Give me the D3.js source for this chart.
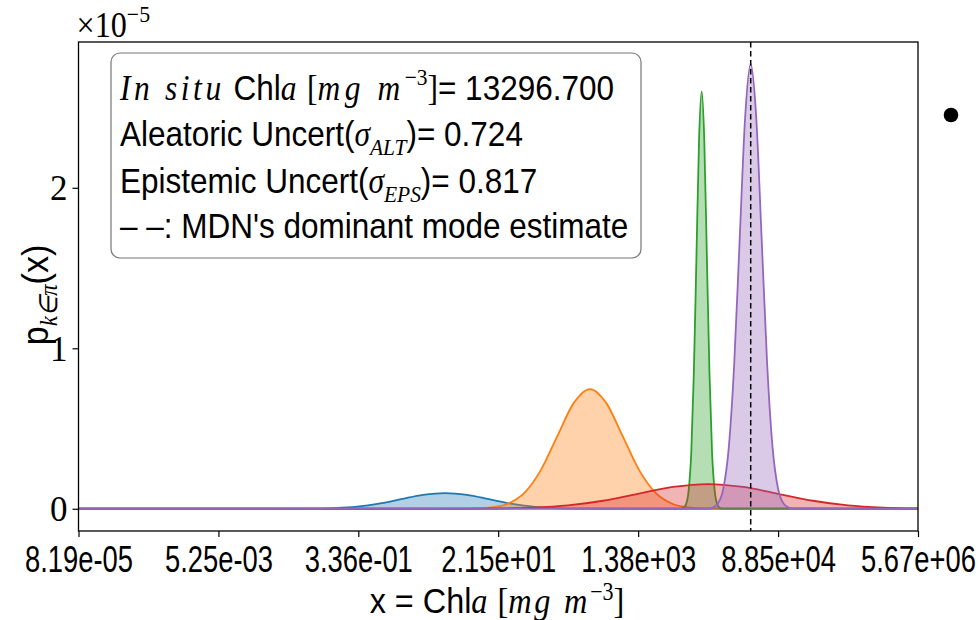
<!DOCTYPE html>
<html>
<head>
<meta charset="utf-8">
<script src="https://cdn.jsdelivr.net/npm/d3@7"></script>
<style>
  body { margin: 0; background: #fff; }
  svg { display: block; }
</style>
</head>
<body>
<svg id="chart" width="980" height="620"></svg>
<script>
// ---- data ---------------------------------------------------------------
// x axis ticks (Chla, mg m^-3) and their printed labels
const xTickValues = [8.19e-5, 5.25e-3, 3.36e-1, 2.15e1, 1.38e3, 8.85e4, 5.67e6];
const xTickLabels = ["8.19e-05", "5.25e-03", "3.36e-01", "2.15e+01", "1.38e+03", "8.85e+04", "5.67e+06"];
// y ticks, density in units of 1e-5
const yTickValues = [0, 1, 2];

// Mixture components: sample positions as log10(Chla) and density (x 1e-5)
const comp1LogX = [-4.0867, -1.626, -1.342, -1.058, -0.774, -0.490, -0.206, 0.078, 0.362, 0.646, 0.930, 1.214, 1.498, 1.782, 2.066, 2.350, 2.634, 2.918, 6.7536];
const comp1P    = [0, 0, 0.0002, 0.0011, 0.0043, 0.0133, 0.0318, 0.0594, 0.0865, 0.098, 0.0865, 0.0594, 0.0318, 0.0133, 0.0043, 0.0011, 0.0002, 0, 0];

const comp2LogX = [-4.0867, 0.830, 1.041, 1.252, 1.463, 1.674, 1.885, 2.096, 2.307, 2.518, 2.729, 2.940, 3.151, 3.362, 3.573, 3.784, 3.995, 4.206, 6.7536];
const comp2P    = [0, 0.0002, 0.0016, 0.0083, 0.0327, 0.1009, 0.2422, 0.4525, 0.6583, 0.746, 0.6583, 0.4525, 0.2422, 0.1009, 0.0327, 0.0083, 0.0016, 0.0002, 0];

const comp3LogX = [-4.0867, 3.692, 3.725, 3.759, 3.792, 3.826, 3.859, 3.893, 3.926, 3.960, 3.994, 4.027, 4.061, 4.094, 4.128, 4.161, 4.195, 4.228, 6.7536];
const comp3P    = [0, 0.0009, 0.0057, 0.0288, 0.114, 0.352, 0.844, 1.577, 2.295, 2.60, 2.295, 1.577, 0.844, 0.352, 0.114, 0.0288, 0.0057, 0.0009, 0];

const comp4LogX = [-4.0867, 0.425, 0.877, 1.329, 1.781, 2.233, 2.685, 3.137, 3.589, 4.041, 4.493, 4.945, 5.397, 5.849, 6.301, 6.7536];
const comp4P    = [0, 0.0001, 0.0003, 0.0017, 0.0068, 0.0208, 0.0500, 0.0934, 0.1359, 0.154, 0.1359, 0.0934, 0.0500, 0.0208, 0.0068, 0.0017];

const comp5LogX = [-4.0867, 4.025, 4.096, 4.167, 4.238, 4.309, 4.380, 4.451, 4.522, 4.593, 4.664, 4.735, 4.806, 4.877, 4.948, 5.019, 5.090, 5.161, 6.7536];
const comp5P    = [0, 0.0009, 0.0061, 0.0308, 0.1216, 0.3748, 0.8994, 1.680, 2.4445, 2.77, 2.4445, 1.680, 0.8994, 0.3748, 0.1216, 0.0308, 0.0061, 0.0009, 0];

const componentColors = ["#1f77b4", "#ff7f0e", "#2ca02c", "#d62728", "#9467bd"];

// summary statistics shown in the annotation box
const inSituChla = 13296.7;
const sigmaALT = 0.724;
const sigmaEPS = 0.817;
const dominantMode = 3.92e4;   // MDN's dominant mode estimate (mg m^-3)

// ---- layout -------------------------------------------------------------
const plot = { left: 78.5, right: 918, top: 42, bottom: 531 };
const SANS = "'Liberation Sans', Arial, sans-serif";
const SERIF = "'Liberation Serif', 'Times New Roman', serif";

const svg = d3.select("#chart");

const components = [
  [comp1LogX, comp1P], [comp2LogX, comp2P], [comp3LogX, comp3P],
  [comp4LogX, comp4P], [comp5LogX, comp5P]
].map(([lx, p], i) => ({
  color: componentColors[i],
  points: lx.map((v, j) => ({ x: Math.pow(10, v), p: p[j] }))
}));

const x = d3.scaleLog()
  .domain([xTickValues[0], xTickValues[xTickValues.length - 1]])
  .range([plot.left, plot.right]);

const yMax = d3.max(components, c => d3.max(c.points, d => d.p));
const pad = 0.05 * yMax;
const y = d3.scaleLinear()
  .domain([-pad, yMax + pad])
  .range([plot.bottom, plot.top]);

svg.append("defs").append("clipPath").attr("id", "plotClip")
  .append("rect")
  .attr("x", plot.left).attr("y", plot.top)
  .attr("width", plot.right - plot.left).attr("height", plot.bottom - plot.top);

const area = d3.area()
  .x(d => x(d.x)).y0(y(0)).y1(d => y(d.p))
  .curve(d3.curveMonotoneX);
const line = d3.line()
  .x(d => x(d.x)).y(d => y(d.p))
  .curve(d3.curveMonotoneX);

const gPlot = svg.append("g").attr("clip-path", "url(#plotClip)");
components.forEach(c => {
  gPlot.append("path").datum(c.points)
    .attr("d", area).attr("fill", c.color).attr("fill-opacity", 0.35);
  gPlot.append("path").datum(c.points)
    .attr("d", line).attr("fill", "none")
    .attr("stroke", c.color).attr("stroke-width", 1.8);
});

// dominant mode marker
gPlot.append("line")
  .attr("x1", x(dominantMode)).attr("x2", x(dominantMode))
  .attr("y1", plot.top).attr("y2", plot.bottom)
  .attr("stroke", "#000").attr("stroke-width", 1.5)
  .attr("stroke-dasharray", "5.5,3.5");

// ---- axes ---------------------------------------------------------------
const xAxis = d3.axisBottom(x)
  .tickValues(xTickValues)
  .tickFormat((d, i) => xTickLabels[i])
  .tickSize(6);
const gx = svg.append("g").attr("transform", `translate(0,${plot.bottom})`).call(xAxis);
gx.select(".domain").remove();
gx.selectAll(".tick line").attr("stroke", "#000").attr("stroke-width", 1.2);
gx.selectAll(".tick text")
  .attr("y", 15).attr("dy", "0.71em")
  .attr("transform", "scale(0.74,1)")
  .style("font-family", SANS).style("font-size", "37px").attr("fill", "#000");

const yAxis = d3.axisLeft(y).tickValues(yTickValues).tickFormat(d3.format("d")).tickSize(6);
const gy = svg.append("g").attr("transform", `translate(${plot.left},0)`).call(yAxis);
gy.select(".domain").remove();
gy.selectAll(".tick line").attr("stroke", "#000").attr("stroke-width", 1.2);
gy.selectAll(".tick text")
  .attr("x", -11).attr("dy", "0.34em")
  .style("font-family", SERIF).style("font-size", "35px").attr("fill", "#000");

// frame
svg.append("rect")
  .attr("x", plot.left).attr("y", plot.top)
  .attr("width", plot.right - plot.left).attr("height", plot.bottom - plot.top)
  .attr("fill", "none").attr("stroke", "#000").attr("stroke-width", 1.3);

// ---- rich text helper ---------------------------------------------------
function richText(parent, px, py, parts, opts) {
  const t = parent.append("text")
    .attr("transform", `translate(${px},${py})${opts.rotate ? ` rotate(${opts.rotate})` : ""} scale(${opts.sx || 1},1)`)
    .attr("text-anchor", opts.anchor || "start")
    .attr("fill", "#000")
    .style("font-size", opts.size + "px");
  let shift = 0;
  const supRaise = opts.supRaise || 0.42;
  parts.forEach(p => {
    const target = p.sup ? -opts.size * supRaise : p.sub ? opts.size * 0.25 : 0;
    const ts = t.append("tspan")
      .style("font-family", p.f || SANS)
      .style("font-style", p.i ? "italic" : "normal")
      .style("font-size", (p.sup || p.sub ? opts.size * 0.68 : opts.size) + "px")
      .style("letter-spacing", (p.ls || 0) + "px")
      .text(p.t);
    if (target !== shift) { ts.attr("dy", target - shift); shift = target; }
  });
  return t;
}

// offset text for the y axis
richText(svg, plot.left - 2, 37, [
  { t: "×10", f: SERIF }, { t: "−5", f: SERIF, sup: true }
], { size: 35, sx: 0.92 });

// axis titles
richText(svg, 497, 613, [
  { t: "x = Chl", f: SANS }, { t: "a", f: SERIF, i: true, ls: 2 }, { t: " [", f: SERIF },
  { t: "mg m", f: SERIF, i: true, ls: 3 }, { t: "−3", f: SERIF, sup: true }, { t: "]", f: SERIF }
], { size: 36, anchor: "middle", sx: 0.9, supRaise: 0.36 });

richText(svg, 48, 295, [
  { t: "p", f: SANS }, { t: "k∈π", f: SERIF, i: true, sub: true }, { t: "(x)", f: SANS }
], { size: 37, anchor: "middle", rotate: -90, sx: 0.92 });

// ---- annotation box -----------------------------------------------------
svg.append("rect")
  .attr("x", 111).attr("y", 53).attr("width", 530).attr("height", 205)
  .attr("rx", 9).attr("ry", 9)
  .attr("fill", "#fff").attr("fill-opacity", 0.8)
  .attr("stroke", "#777").attr("stroke-width", 1.2);

const boxSize = 35, boxSx = 0.9, boxX = 120;
richText(svg, boxX, 100, [
  { t: "In situ", f: SERIF, i: true, ls: 4 }, { t: " Chl", f: SANS }, { t: "a", f: SERIF, i: true, ls: 3 },
  { t: " [", f: SERIF }, { t: "mg m", f: SERIF, i: true, ls: 5 }, { t: "−3", f: SERIF, sup: true },
  { t: "]", f: SERIF }, { t: "= " + inSituChla.toFixed(3), f: SANS }
], { size: boxSize, sx: boxSx });
richText(svg, boxX, 146, [
  { t: "Aleatoric Uncert(", f: SANS }, { t: "σ", f: SERIF, i: true },
  { t: "ALT", f: SERIF, i: true, sub: true }, { t: ")= " + sigmaALT.toFixed(3), f: SANS }
], { size: boxSize, sx: boxSx });
richText(svg, boxX, 193, [
  { t: "Epistemic Uncert(", f: SANS }, { t: "σ", f: SERIF, i: true },
  { t: "EPS", f: SERIF, i: true, sub: true }, { t: ")= " + sigmaEPS.toFixed(3), f: SANS }
], { size: boxSize, sx: boxSx });
richText(svg, boxX, 238, [
  { t: "– –:  MDN's dominant mode estimate", f: SANS }
], { size: boxSize, sx: boxSx });

// bullet to the right of the chart
svg.append("circle").attr("cx", 951).attr("cy", 115).attr("r", 7.3).attr("fill", "#000");
</script>
</body>
</html>
